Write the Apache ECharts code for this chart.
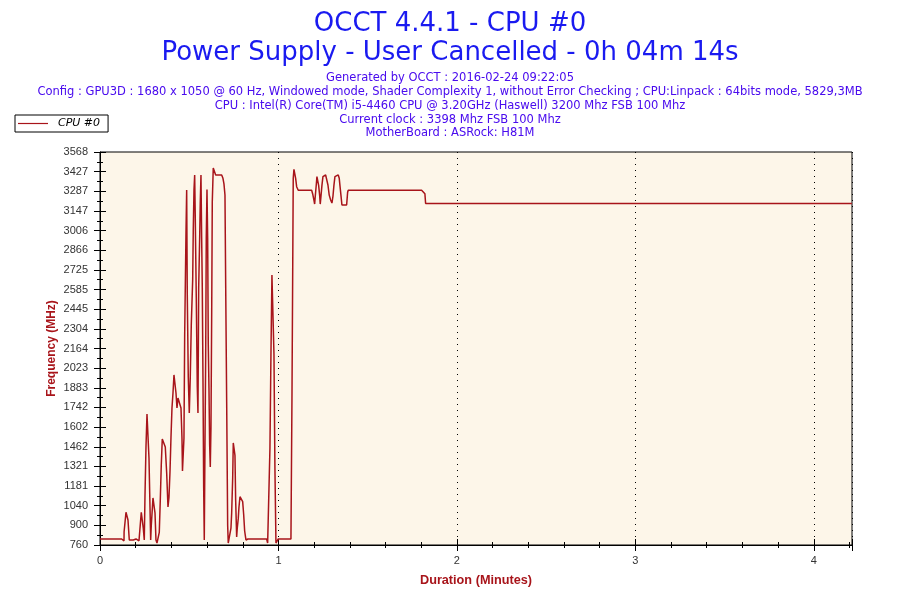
<!DOCTYPE html>
<html>
<head>
<meta charset="utf-8">
<script src="https://cdn.jsdelivr.net/npm/echarts@6/dist/echarts.min.js"></script>
<style>html,body{margin:0;padding:0;background:#fff}#c{width:900px;height:600px}</style>
</head>
<body>
<div id="c"></div>
<script>
// ---- data (time in seconds, frequency in MHz) ----
var timeSec = [0,7.29,7.39,8.07,8.1,8.74,9.18,9.41,9.85,11.19,11.26,12.10,12.20,13.11,13.45,13.88,14.35,14.55,14.89,15.13,15.46,15.80,16.24,16.47,16.81,17.04,17.24,17.48,17.81,18.25,18.49,18.82,19.16,19.83,19.93,20.27,20.60,20.94,21.61,21.95,22.42,22.86,23.19,23.53,23.87,
24.20,24.54,24.87,25.21,25.55,25.88,26.22,26.89,27.23,27.56,27.73,28.00,28.23,28.47,28.91,29.14,29.34,29.68,30.02,30.35,30.69,31.16,31.36,31.60,31.83,32.03,32.37,32.71,32.94,33.18,33.51,33.71,33.95,34.18,34.39,34.62,34.86,35.06,35.29,35.53,35.73,35.97,36.20,36.40,36.64,36.87,37.08,37.31,37.55,37.75,38.08,38.42,38.89,40.91,41.34,41.68,42.02,42.25,42.59,42.92,43.12,43.70,
44.03,44.27,44.61,44.81,45.14,45.38,45.61,45.95,46.15,46.49,46.72,47.06,47.63,47.97,48.30,48.64,49.07,49.75,56.03,56.37,56.71,57.14,57.48,57.81,58.25,58.49,58.82,59.16,59.60,59.93,64.20,64.54,64.97,65.21,65.54,65.78,66.12,66.65,
71.16,71.49,71.93,72.17,72.37,72.71,72.94,73.28,73.51,73.85,74.05,74.29,74.62,74.96,75.30,75.86,76.20,76.64,77.07,77.55,77.98,78.32,78.65,78.99,79.43,80.10,80.44,80.67,81.01,81.34,82.92,83.26,83.46,108.13,108.67,109.24,109.48,252.8];
var freqMHz = [803,803,790,790,855,994,994,939,796,796,803,803,790,790,881,994,994,881,796,1117,1460,1696,1696,1381,1032,796,900,980,1096,1096,990,796,774,774,850,1081,1332,1517,1517,1460,1275,1032,1100,1282,1532,
1739,1846,1975,1975,1846,1739,1810,1810,1739,1524,1289,1289,1524,2260,2989,3296,2560,1960,1703,1960,2332,2654,3011,3296,3404,3100,2532,1889,1703,2600,2953,3203,3404,2953,2600,1960,1167,796,1460,2103,2953,3300,2953,2200,1880,1474,1317,1600,2403,3211,3454,3440,3404,3404,3380,3340,3261,2641,1784,903,774,774,
880,989,1239,1489,1489,1400,1082,817,880,950,1030,1105,1105,1070,980,860,796,803,803,774,774,1453,2125,2689,2689,2125,1300,774,774,803,803,1800,3380,3444,3444,3380,3320,3295,
3295,3270,3225,3196,3250,3332,3392,3392,3330,3260,3196,3250,3330,3392,3404,3404,3390,3332,3260,3225,3203,3250,3330,3392,3404,3404,3380,3330,3260,3189,3189,3280,3295,3295,3290,3270,3200,3200];
var yTickLabels = ['760','900','1040','1181','1321','1462','1602','1742','1883','2023','2164','2304','2445','2585','2725','2866','3006','3147','3287','3427','3568'];
var xTickLabels = ['0','1','2','3','4'];
var seriesName = 'CPU #0';
var titleLines = ['OCCT 4.4.1 - CPU #0', 'Power Supply - User Cancelled - 0h 04m 14s'];
var infoLines = [
  'Generated by OCCT : 2016-02-24 09:22:05',
  'Config : GPU3D : 1680 x 1050 @ 60 Hz, Windowed mode, Shader Complexity 1, without Error Checking ; CPU:Linpack : 64bits mode, 5829,3MB',
  'CPU : Intel(R) Core(TM) i5-4460 CPU @ 3.20GHz (Haswell) 3200 Mhz FSB 100 Mhz',
  'Current clock : 3398 Mhz FSB 100 Mhz',
  'MotherBoard : ASRock: H81M'
];

var Y_MIN = 760, Y_MAX = 3568, Y_STEP = 140.4;
var X_MIN = 0, X_MAX = 4.214;

var data = timeSec.map(function (s, i) { return [s / 60, freqMHz[i]]; });

var titles = [
  {text: titleLines[0], left: 'center', top: 11, padding: 0,
   textStyle: {fontFamily: 'DejaVu Sans', fontSize: 26, fontWeight: 'normal', color: '#1a1af0'}},
  {text: titleLines[1], left: 'center', top: 40, padding: 0,
   textStyle: {fontFamily: 'DejaVu Sans', fontSize: 26, fontWeight: 'normal', color: '#1a1af0'}}
];
var infoTops = [72, 86, 100, 114, 127];
infoLines.forEach(function (t, i) {
  titles.push({text: t, left: 'center', top: infoTops[i], padding: 0,
    textStyle: {fontFamily: 'DejaVu Sans', fontSize: 11.5, fontWeight: 'normal', color: '#4a0cee'}});
});

function xAx(interval, inside, len, main) {
  return {
    type: 'value', min: X_MIN, max: X_MAX, interval: interval, position: 'bottom', offset: 0,
    axisLine: {show: main, onZero: false, lineStyle: {color: '#000', width: 1}},
    axisTick: {show: true, inside: inside, length: len, lineStyle: {color: '#000', width: 1}},
    axisLabel: main ? {show: true, margin: 10, fontFamily: 'Liberation Sans', fontSize: 11, color: '#333',
      formatter: function (v) { var k = Math.round(v); return Math.abs(v - k) < 1e-6 && xTickLabels[k] !== undefined ? xTickLabels[k] : ''; }} : {show: false},
    splitLine: main ? {show: true, lineStyle: {color: '#000', type: [1, 5], width: 1}} : {show: false},
    name: main ? 'Duration (Minutes)' : '', nameLocation: 'middle', nameGap: 29,
    nameTextStyle: {fontFamily: 'Liberation Sans', fontSize: 12.7, fontWeight: 'bold', color: '#a8141a'}
  };
}
function yAx(interval, inside, len, main) {
  return {
    type: 'value', min: Y_MIN, max: Y_MAX, interval: interval, position: 'left', offset: 0,
    axisLine: {show: main, onZero: false, lineStyle: {color: '#000', width: 1}},
    axisTick: {show: true, inside: inside, length: len, lineStyle: {color: '#000', width: 1}},
    axisLabel: main ? {show: true, margin: 12, fontFamily: 'Liberation Sans', fontSize: 11, color: '#333',
      formatter: function (v) { var k = Math.round((v - Y_MIN) / Y_STEP); return yTickLabels[k] || ''; }} : {show: false},
    splitLine: {show: false},
    name: main ? 'Frequency (MHz)' : '', nameLocation: 'middle', nameGap: 42, nameMoveOverlap: false,
    nameTextStyle: {fontFamily: 'Liberation Sans', fontSize: 12, fontWeight: 'bold', color: '#a8141a'}
  };
}

var chart = echarts.init(document.getElementById('c'), null, {renderer: 'canvas'});
chart.setOption({
  animation: false,
  backgroundColor: '#ffffff',
  title: titles,
  legend: {
    left: 15, top: 115, orient: 'horizontal',
    data: [seriesName],
    icon: 'rect', itemWidth: 30, itemHeight: 1.2, itemGap: 0,
    padding: [3, 8, 3, 3],
    borderColor: '#000', borderWidth: 1, backgroundColor: '#fff',
    textStyle: {fontFamily: 'DejaVu Sans', fontSize: 11, fontStyle: 'italic', color: '#000', padding: [0, 0, 0, 5]}
  },
  grid: {left: 100, right: 48, top: 152, bottom: 55, show: true,
    backgroundColor: '#fdf6e9', borderColor: '#000', borderWidth: 1},
  xAxis: [xAx(1, false, 6, true), xAx(1, true, 6, false), xAx(0.2, false, 3, false), xAx(0.2, true, 3, false)],
  yAxis: [yAx(Y_STEP, false, 6, true), yAx(Y_STEP, true, 6, false), yAx(Y_STEP / 2, false, 3, false), yAx(Y_STEP / 2, true, 3, false)],
  series: [{
    name: seriesName, type: 'line', xAxisIndex: 0, yAxisIndex: 0,
    data: data, symbol: 'none', showSymbol: false,
    lineStyle: {color: '#a8141a', width: 1.5}, itemStyle: {color: '#a8141a'}
  }]
});
</script>
</body>
</html>
